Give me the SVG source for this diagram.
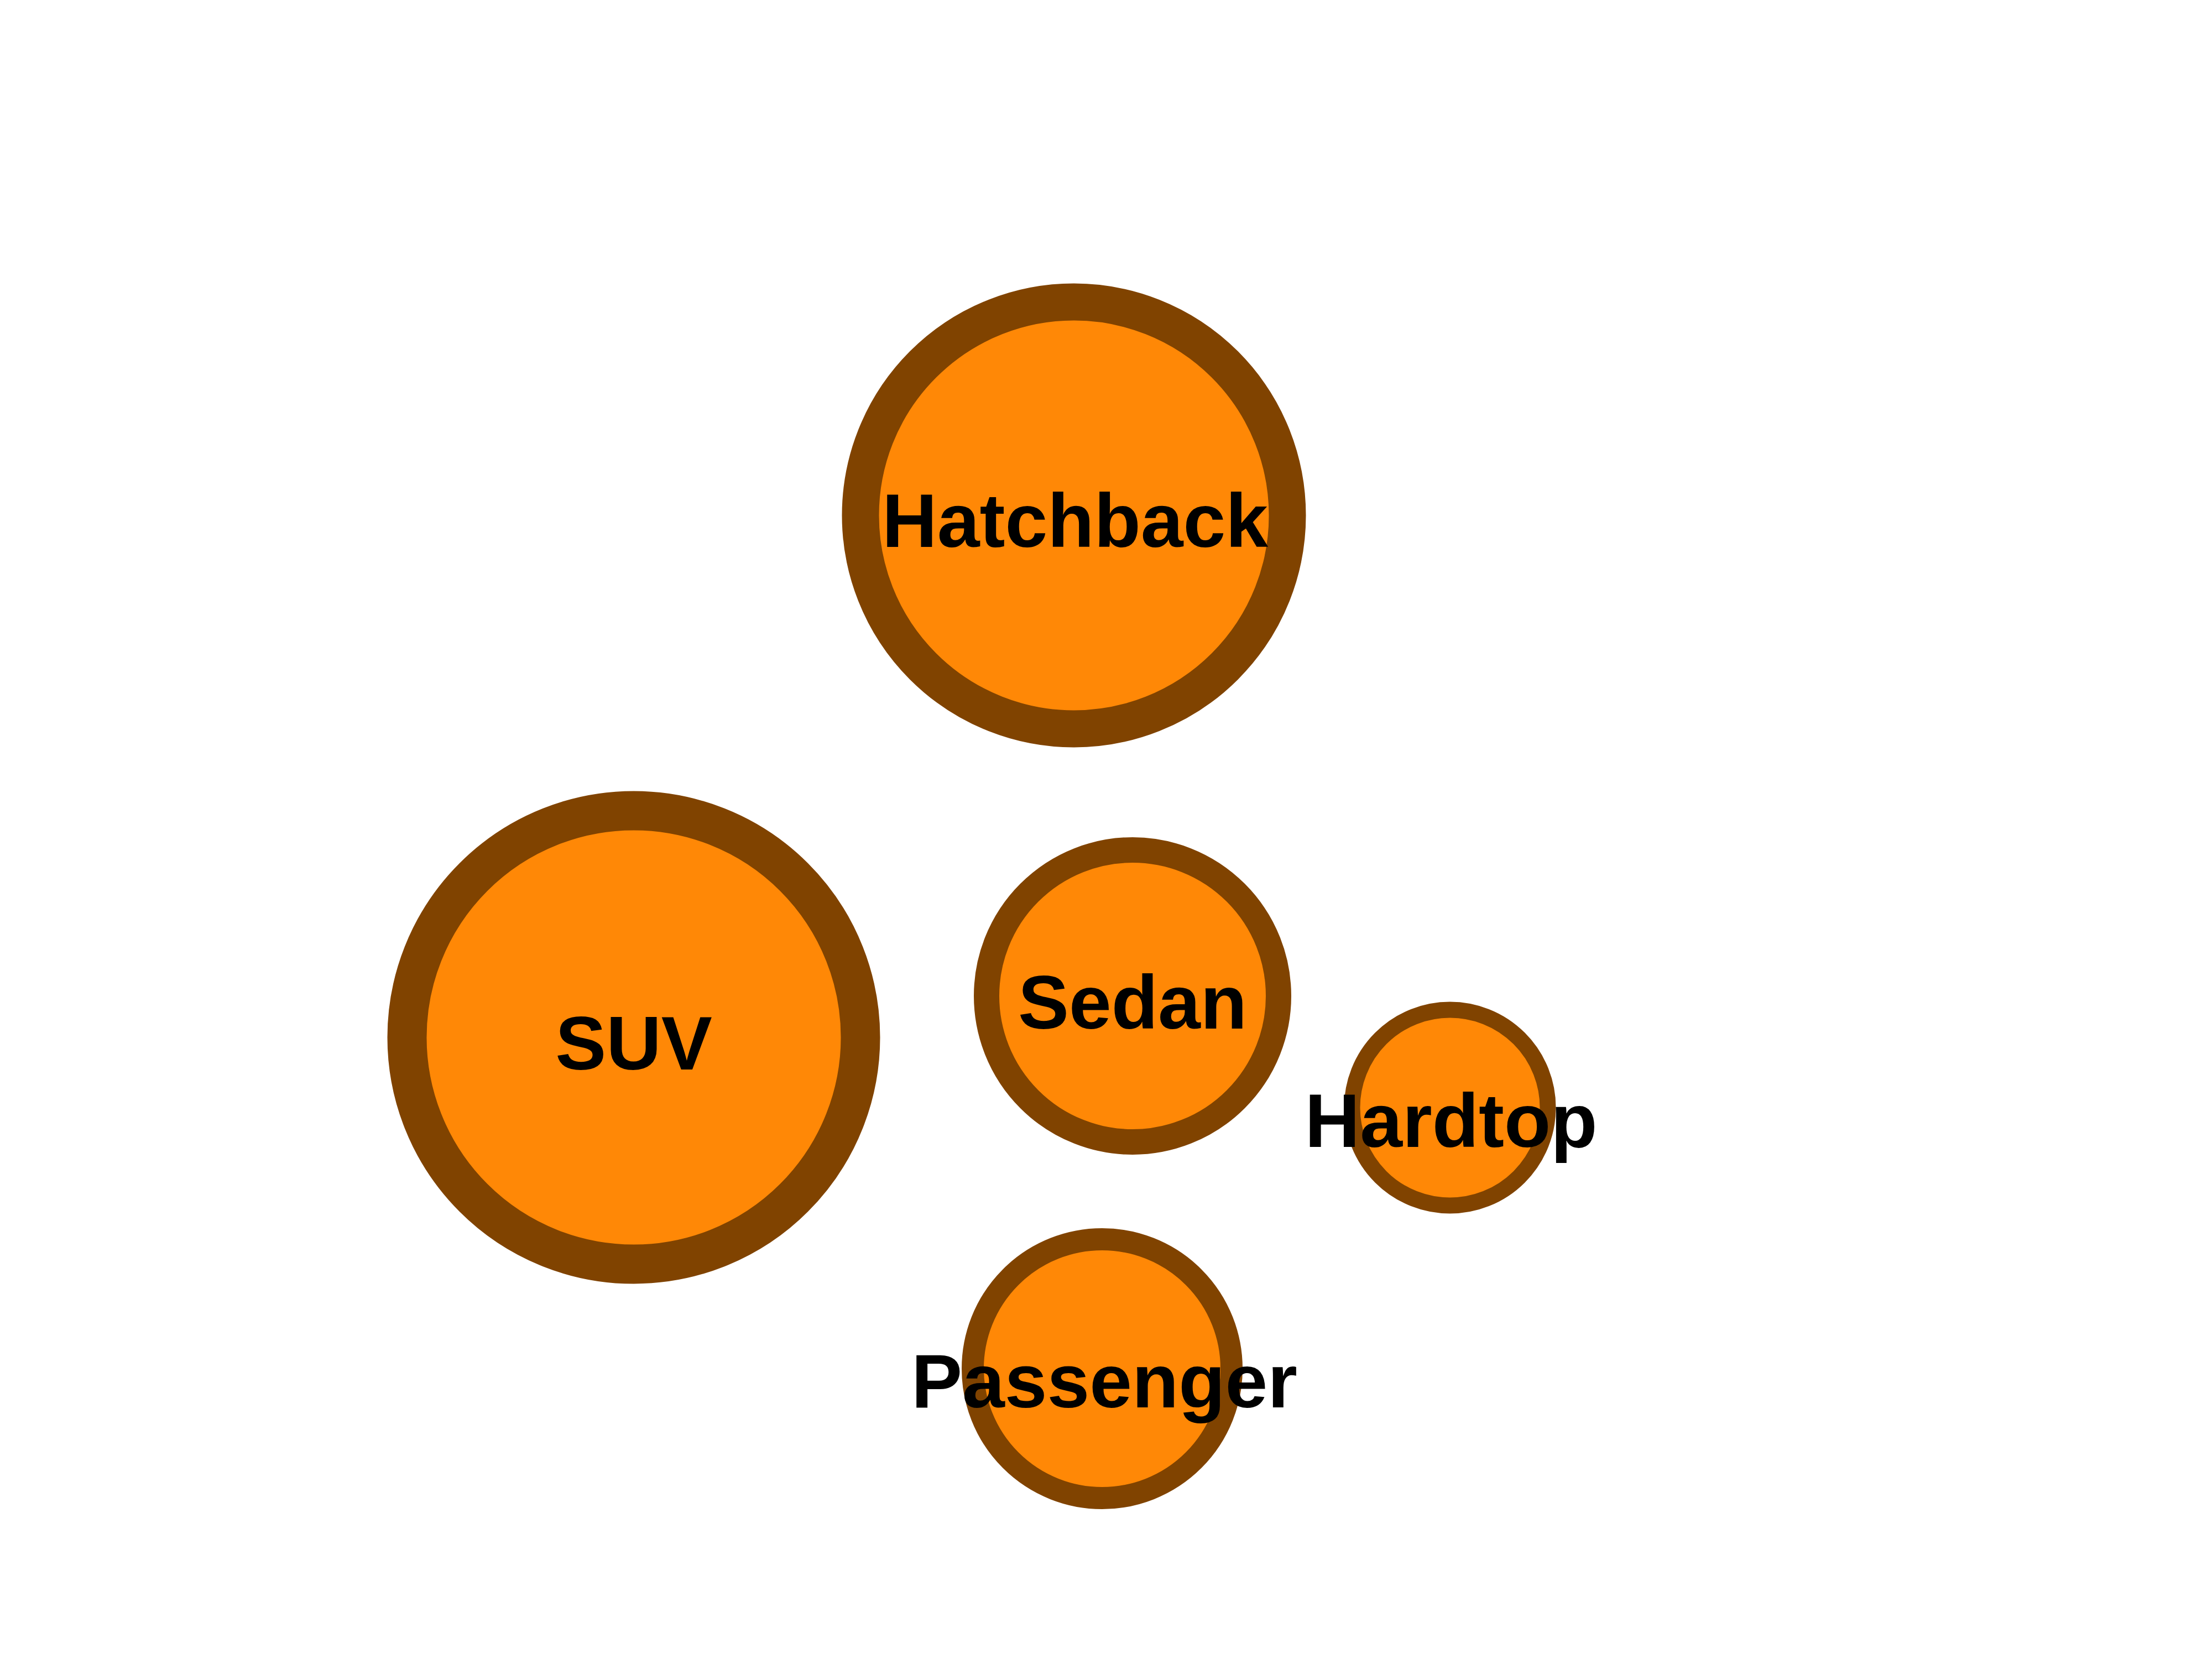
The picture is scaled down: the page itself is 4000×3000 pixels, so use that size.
<svg xmlns="http://www.w3.org/2000/svg" width="4000" height="3000" viewBox="0 0 4000 3000">
<style>
.n circle{fill:#FF8806;stroke:#804300}
.n text{font-family:"Liberation Sans",Arial,sans-serif;font-weight:bold;font-size:138px;fill:#000;text-anchor:middle}
</style>
<rect width="4000" height="3000" fill="#fff"/>
<g id="connectors"></g>
<g id="hatchback" class="n"><circle cx="1942" cy="932" r="386" stroke-width="67"/><text x="1944" y="989">Hatchback</text></g>
<g id="suv" class="n"><circle cx="1146" cy="1876" r="410" stroke-width="71"/><text x="1146" y="1934">SUV</text></g>
<g id="sedan" class="n"><circle cx="2048" cy="1801" r="264" stroke-width="46"/><text x="2048" y="1860">Sedan</text></g>
<g id="hardtop" class="n"><circle cx="2622" cy="2003" r="177" stroke-width="29"/><text x="2624" y="2074">Hardtop</text></g>
<g id="passenger" class="n"><circle cx="1993" cy="2475" r="234" stroke-width="40"/><text x="1997" y="2545">Passenger</text></g>
</svg>
